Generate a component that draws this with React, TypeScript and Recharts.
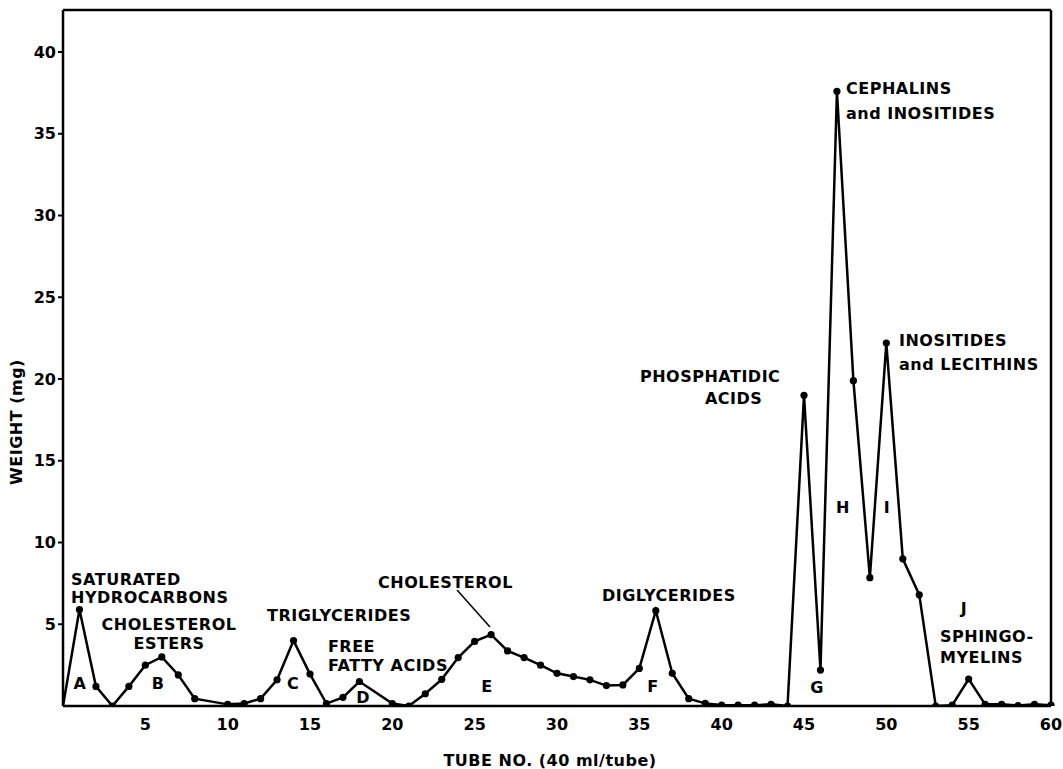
import { Line, LineChart, ReferenceDot, ReferenceLine, XAxis, YAxis } from 'recharts';

const tubes = [
  0, 1, 2, 3, 4, 5, 6, 7, 8, 10, 11, 12, 13, 14, 15, 16, 17, 18, 20, 21, 22, 23, 24, 25, 26, 27, 28, 29, 30,
  31, 32, 33, 34, 35, 36, 37, 38, 39, 40, 41, 42, 43, 44, 45, 46, 47, 48, 49, 50, 51, 52, 53, 54, 55, 56, 57,
  58, 59, 60,
];
const weights = [
  0, 5.9, 1.2, 0, 1.2, 2.5, 3.0, 1.9, 0.45, 0.1, 0.15, 0.45, 1.6, 4.0, 1.95, 0.15, 0.53, 1.5, 0.15, 0, 0.75,
  1.63, 2.96, 3.95, 4.36, 3.37, 2.96, 2.5, 2.0, 1.8, 1.6, 1.25, 1.29, 2.3, 5.83, 2.0, 0.45, 0.16, 0.06, 0.05,
  0.05, 0.1, 0, 19.0, 2.2, 37.6, 19.9, 7.85, 22.2, 9.0, 6.8, 0, 0.05, 1.65, 0.1, 0.1, 0.03, 0.1, 0.05,
];
const xTicks = [5, 10, 15, 20, 25, 30, 35, 40, 45, 50, 55, 60];
const yTicks = [5, 10, 15, 20, 25, 30, 35, 40];

const Y_TOP = 42.57;
const FONT = '"DejaVu Sans", sans-serif';

const data = tubes.map((tube, i) => ({ tube, weight: weights[i] }));

interface Note {
  x: number;
  y: number;
  lines: string[];
  anchor: 'start' | 'middle';
  gap?: number;
  indent?: number[];
}

// annotation positions, in data units
const notes: Note[] = [
  { x: 0.49, y: 7.77, lines: ['SATURATED', 'HYDROCARBONS'], anchor: 'start', gap: 18 },
  { x: 6.44, y: 5.02, lines: ['CHOLESTEROL', 'ESTERS'], anchor: 'middle', gap: 19 },
  { x: 12.39, y: 5.57, lines: ['TRIGLYCERIDES'], anchor: 'start' },
  { x: 16.09, y: 3.67, lines: ['FREE', 'FATTY ACIDS'], anchor: 'start', gap: 19 },
  { x: 19.13, y: 7.58, lines: ['CHOLESTEROL'], anchor: 'start' },
  { x: 32.73, y: 6.79, lines: ['DIGLYCERIDES'], anchor: 'start' },
  { x: 35.04, y: 20.18, lines: ['PHOSPHATIDIC', 'ACIDS'], anchor: 'start', gap: 22, indent: [0, 65] },
  { x: 47.55, y: 37.8, lines: ['CEPHALINS', 'and INOSITIDES'], anchor: 'start', gap: 25 },
  { x: 50.77, y: 22.39, lines: ['INOSITIDES', 'and LECITHINS'], anchor: 'start', gap: 24 },
  { x: 53.26, y: 4.28, lines: ['SPHINGO-', 'MYELINS'], anchor: 'start', gap: 21 },
];

const peakLetters = ['A', 'B', 'C', 'D', 'E', 'F', 'G', 'H', 'I', 'J'];
const peakLetterX = [1.03, 5.77, 13.97, 18.22, 25.75, 35.83, 45.79, 47.37, 50.04, 54.72];
const peakLetterY = [1.41, 1.41, 1.41, 0.55, 1.22, 1.22, 1.16, 12.17, 12.17, 5.99];

function noteLabel(note: Note) {
  // eslint-disable-next-line @typescript-eslint/no-explicit-any
  return ({ viewBox }: any) => {
    const cx = viewBox.x + viewBox.width / 2;
    const cy = viewBox.y + viewBox.height / 2;
    return (
      <text
        textAnchor={note.anchor}
        fontFamily={FONT}
        fontWeight="bold"
        fontSize={16}
        letterSpacing={0.5}
        fill="#000"
      >
        {note.lines.map((line, i) => (
          <tspan key={i} x={cx + (note.indent?.[i] ?? 0)} y={cy + i * (note.gap ?? 0)} dy="0.36em">
            {line}
          </tspan>
        ))}
      </text>
    );
  };
}

// eslint-disable-next-line @typescript-eslint/no-explicit-any
function renderDot({ cx, cy, index }: any) {
  if (index === 0) {
    return <g key={`dot-${index}`} />;
  }
  return <circle key={`dot-${index}`} cx={cx} cy={cy} r={3.6} fill="#000" />;
}

const tickStyle = { fontFamily: FONT, fontWeight: 'bold', fontSize: 16, fill: '#000' };

export default function App() {
  return (
    <div style={{ position: 'absolute', left: 0, top: 0, width: 1063, height: 769, background: '#fff' }}>
      <LineChart width={1063} height={769} data={data} margin={{ top: 10, right: 12, bottom: 0, left: 0 }}>
        <XAxis
          dataKey="tube"
          type="number"
          domain={[0, 60]}
          ticks={xTicks}
          height={63}
          tickLine={false}
          tickSize={0}
          tickMargin={13}
          axisLine={{ stroke: '#000', strokeWidth: 2.5 }}
          tick={tickStyle}
          label={{
            // eslint-disable-next-line @typescript-eslint/no-explicit-any
            content: ({ viewBox }: any) => (
              <text
                x={viewBox.x + viewBox.width / 2 - 7}
                y={viewBox.y + 54}
                textAnchor="middle"
                dominantBaseline="central"
                fontFamily={FONT}
                fontWeight="bold"
                fontSize={16}
                letterSpacing={0.5}
                fill="#000"
              >
                TUBE  NO. (40 ml/tube)
              </text>
            ),
          }}
        />
        <YAxis
          type="number"
          domain={[0, Y_TOP]}
          allowDataOverflow
          ticks={yTicks}
          width={63}
          tickSize={5}
          tickMargin={2}
          tickLine={{ stroke: '#000', strokeWidth: 2 }}
          axisLine={{ stroke: '#000', strokeWidth: 2.5 }}
          tick={tickStyle}
          label={{
            // eslint-disable-next-line @typescript-eslint/no-explicit-any
            content: ({ viewBox }: any) => {
              const x = 16;
              const y = viewBox.y + viewBox.height / 2 + 64;
              return (
                <text
                  x={x}
                  y={y}
                  transform={`rotate(-90, ${x}, ${y})`}
                  textAnchor="middle"
                  dominantBaseline="central"
                  fontFamily={FONT}
                  fontWeight="bold"
                  fontSize={16}
                  letterSpacing={0.5}
                  fill="#000"
                >
                  WEIGHT  (mg)
                </text>
              );
            },
          }}
        />
        <ReferenceLine y={Y_TOP} stroke="#000" strokeWidth={2.5} ifOverflow="visible" />
        <ReferenceLine x={60} stroke="#000" strokeWidth={2.5} ifOverflow="visible" />
        <ReferenceLine
          segment={[
            { x: 23.93, y: 7.09 },
            { x: 25.93, y: 4.83 },
          ]}
          stroke="#000"
          strokeWidth={1.5}
          ifOverflow="visible"
        />
        <Line
          type="linear"
          dataKey="weight"
          stroke="#000"
          strokeWidth={2.5}
          dot={renderDot}
          activeDot={false}
          isAnimationActive={false}
        />
        {notes.map((note, i) => (
          <ReferenceDot
            key={`note-${i}`}
            x={note.x}
            y={note.y}
            r={1}
            fill="none"
            stroke="none"
            ifOverflow="visible"
            label={{ content: noteLabel(note) }}
          />
        ))}
        {peakLetters.map((letter, i) => (
          <ReferenceDot
            key={`peak-${i}`}
            x={peakLetterX[i]}
            y={peakLetterY[i]}
            r={1}
            fill="none"
            stroke="none"
            ifOverflow="visible"
            label={{ content: noteLabel({ x: 0, y: 0, lines: [letter], anchor: 'middle' }) }}
          />
        ))}
      </LineChart>
    </div>
  );
}
